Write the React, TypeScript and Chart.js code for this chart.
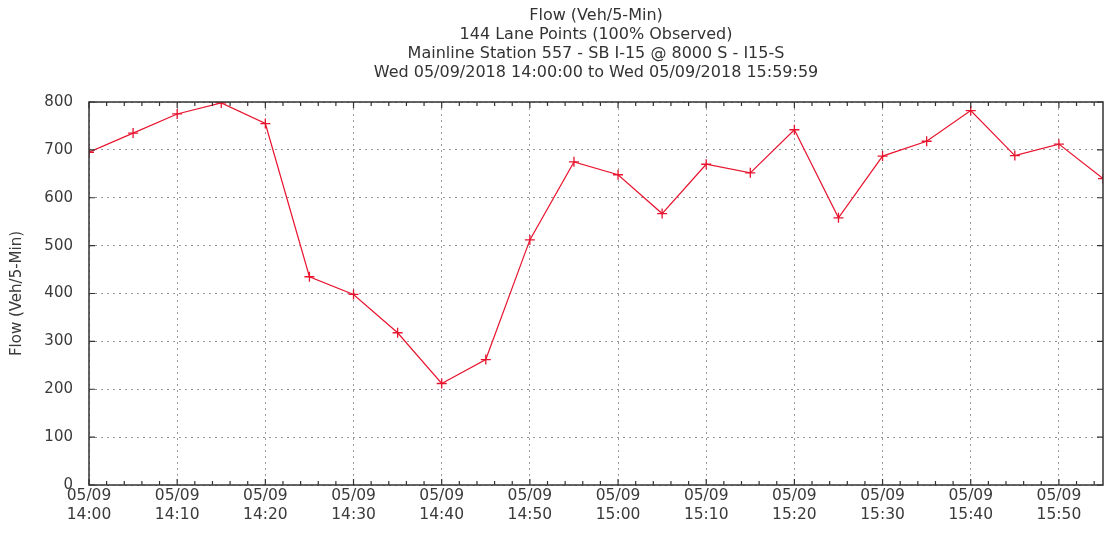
import React, { useEffect, useRef } from "react";
import { Chart, registerables } from "chart.js";

Chart.register(...registerables);

const titleLines = [
  "Flow (Veh/5-Min)",
  "144 Lane Points (100% Observed)",
  "Mainline Station 557 - SB I-15 @ 8000 S - I15-S",
  "Wed 05/09/2018 14:00:00 to Wed 05/09/2018 15:59:59",
];
const yAxisTitle = "Flow (Veh/5-Min)";
// minutes after 14:00
const minutes = [0, 5, 10, 15, 20, 25, 30, 35, 40, 45, 50, 55, 60, 65, 70, 75, 80, 85, 90, 95, 100, 105, 110, 115];
const flow = [695, 735, 775, 798, 755, 435, 398, 318, 212, 262, 512, 675, 648, 567, 670, 652, 742, 558, 687, 718, 782, 688, 712, 640];
const xTickMinutes = [0, 10, 20, 30, 40, 50, 60, 70, 80, 90, 100, 110];
const xTickDates = ["05/09", "05/09", "05/09", "05/09", "05/09", "05/09", "05/09", "05/09", "05/09", "05/09", "05/09", "05/09"];
const xTickTimes = ["14:00", "14:10", "14:20", "14:30", "14:40", "14:50", "15:00", "15:10", "15:20", "15:30", "15:40", "15:50"];
const yTicks = [0, 100, 200, 300, 400, 500, 600, 700, 800];

const FONT = "'DejaVu Sans', Verdana, sans-serif";

const framePlugin = {
  id: "frameTicks",
  afterDraw(chart: any) {
    const { ctx, chartArea, scales } = chart;
    const { left, right, top, bottom } = chartArea;
    ctx.save();
    ctx.strokeStyle = "#333";
    ctx.lineWidth = 1.5;
    ctx.strokeRect(left, top, right - left, bottom - top);
    ctx.lineWidth = 1.2;
    ctx.beginPath();
    // x ticks every 2 min, major every 10
    for (let m = 0; m <= 115; m += 2) {
      const px = scales.x.getPixelForValue(m);
      const len = m % 10 === 0 ? 6 : 4;
      ctx.moveTo(px, bottom);
      ctx.lineTo(px, bottom - len);
      ctx.moveTo(px, top);
      ctx.lineTo(px, top + len);
    }
    for (const v of yTicks) {
      const py = scales.y.getPixelForValue(v);
      ctx.moveTo(left, py);
      ctx.lineTo(left + 6, py);
      ctx.moveTo(right, py);
      ctx.lineTo(right - 6, py);
    }
    ctx.stroke();
    ctx.restore();
  },
};

export default function App() {
  const ref = useRef<HTMLCanvasElement>(null);
  useEffect(() => {
    if (!ref.current) return;
    const chart = new Chart(ref.current, {
      type: "line",
      data: {
        datasets: [
          {
            data: minutes.map((m, i) => ({ x: m, y: flow[i] })),
            borderColor: "#e8142e",
            backgroundColor: "#e8142e",
            borderWidth: 1.2,
            pointStyle: "cross",
            pointRadius: 5,
            pointBorderWidth: 1.3,
            pointBorderColor: "#e8142e",
            tension: 0,
          },
        ],
      },
      options: {
        animation: false,
        responsive: false,
        maintainAspectRatio: false,
        layout: { autoPadding: false, padding: { left: 0, right: 1, top: 0, bottom: 0 } },
        plugins: {
          legend: { display: false },
          tooltip: { enabled: false },
          title: {
            display: true,
            fullSize: false,
            text: titleLines,
            color: "#333",
            font: { family: FONT, size: 16, weight: "normal", lineHeight: 1.1875 },
            padding: { top: 6, bottom: 20 },
          },
        },
        scales: {
          x: {
            type: "linear",
            min: 0,
            max: 115,
            afterBuildTicks: (scale: any) => {
              scale.ticks = xTickMinutes.map((v) => ({ value: v }));
            },
            afterFit: (scale: any) => {
              scale.height = 48;
              scale.paddingRight = 0;
            },
            ticks: {
              autoSkip: false,
              maxRotation: 0,
              color: "#3a3a3a",
              padding: 2,
              font: { family: FONT, size: 15.5, lineHeight: 1.2 },
              callback: (v: any) => {
                const i = xTickMinutes.indexOf(Number(v));
                return i >= 0 ? [xTickDates[i], xTickTimes[i]] : "";
              },
            },
            grid: {
              color: "#999",
              lineWidth: 1,
              drawTicks: false,
            },
            border: { display: false, dash: [2, 4] },
          },
          y: {
            min: 0,
            max: 800,
            afterBuildTicks: (scale: any) => {
              scale.ticks = yTicks.map((v) => ({ value: v }));
            },
            afterFit: (scale: any) => {
              scale.width = 89;
            },
            title: {
              display: true,
              text: yAxisTitle,
              color: "#3a3a3a",
              font: { family: FONT, size: 15 },
              padding: { top: 8, bottom: 0 },
            },
            ticks: {
              color: "#3a3a3a",
              padding: 16,
              font: { family: FONT, size: 15 },
            },
            grid: {
              color: "#999",
              lineWidth: 1,
              drawTicks: false,
            },
            border: { display: false, dash: [2, 4] },
          },
        },
      },
      plugins: [framePlugin],
    });
    return () => chart.destroy();
  }, []);
  return (
    <div style={{ position: "fixed", left: 0, top: 0, width: 1104, height: 533, background: "#fff" }}>
      <canvas ref={ref} width={1104} height={533} style={{ width: 1104, height: 533 }} />
    </div>
  );
}
